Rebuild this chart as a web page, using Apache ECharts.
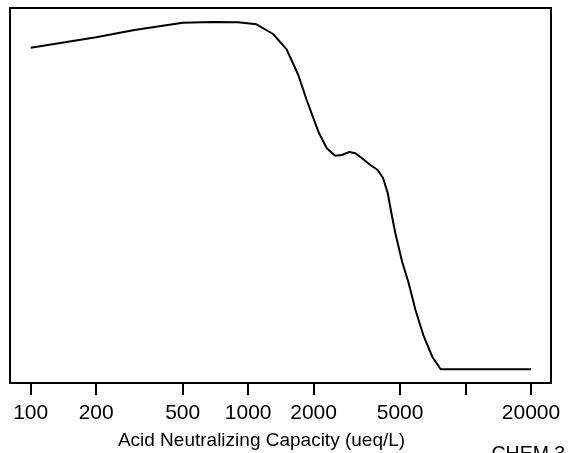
<!DOCTYPE html>
<html>
<head>
<meta charset="utf-8">
<script src="https://cdn.jsdelivr.net/npm/echarts@6/dist/echarts.min.js"></script>
<style>
html,body{margin:0;padding:0;background:#fff;}
#c{width:573px;height:453px;}
</style>
</head>
<body>
<div id="c"></div>
<script>
// Data (ANC in ueq/L, y in arbitrary plot units)
const ancValues = [100,200,300,500,688,898,1092,1303,1503,1701,1859,2104,2301,2514,2699,2926,3110,3340,3648,3945,4178,4387,4592,4756,5108,5478,5884,6432,7031,7681,20000];
const curveValues = [335.3,345.7,353,360.3,361,360.7,358.7,349,333.7,308,283,251.3,234.7,227.3,228,231,229.7,224.7,218,213,204.7,189.7,166.3,149.7,121.3,99.7,73,46.3,26.3,13.7,13.7];
const tickValues = [100,200,500,1000,2000,5000,10000,20000];
const labelValues = [100,200,500,1000,2000,5000,20000];
const axisTitle = 'Acid Neutralizing Capacity (ueq/L)';
const cornerNote = 'CHEM.3';

const chart = echarts.init(document.getElementById('c'), null, {renderer:'canvas'});
const font = 'Liberation Sans, Arial, Helvetica, sans-serif';
const lg = v => Math.log10(v);

chart.setOption({
  animation:false,
  backgroundColor:'#fff',
  grid:{left:10,right:22,top:8,bottom:70,show:true,borderColor:'#000',borderWidth:2,backgroundColor:'transparent'},
  xAxis:{
    type:'value',
    min:1.9048,
    max:4.3930,
    axisLine:{show:false},
    splitLine:{show:false},
    axisTick:{show:true,length:12,lineStyle:{color:'#000',width:2},customValues:tickValues.map(lg)},
    axisLabel:{show:true,margin:20,color:'#000',fontFamily:font,fontSize:21,
      customValues:labelValues.map(lg),
      formatter:v=>String(Math.round(Math.pow(10,v)))}
  },
  yAxis:{type:'value',min:0,max:375,show:false,splitLine:{show:false}},
  graphic:[
    {type:'text',x:261.5,y:431,style:{text:axisTitle,fill:'#000',font:'19px '+font,textAlign:'center',textVerticalAlign:'top'}},
    {type:'text',x:491.5,y:445,style:{text:cornerNote,fill:'#000',font:'19.5px '+font,textAlign:'left',textVerticalAlign:'top'}}
  ],
  series:[{
    type:'line',
    showSymbol:false,
    smooth:false,
    lineStyle:{color:'#000',width:2},
    data:ancValues.map((x,i)=>[lg(x),curveValues[i]])
  }]
});
</script>
</body>
</html>
